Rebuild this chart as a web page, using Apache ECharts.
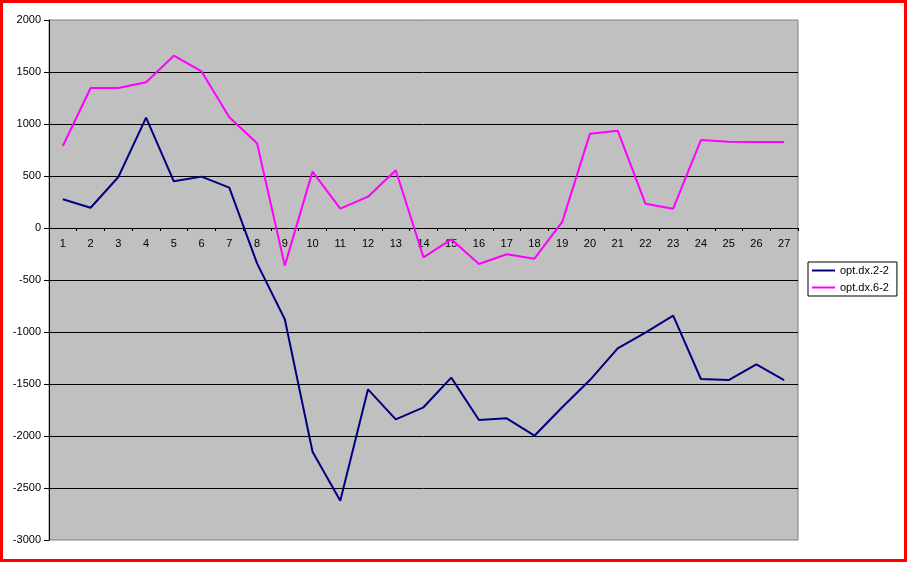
<!DOCTYPE html>
<html>
<head>
<meta charset="utf-8">
<script src="https://cdn.jsdelivr.net/npm/echarts@6/dist/echarts.min.js"></script>
<style>
html,body{margin:0;padding:0;background:#fff;}
#chart{width:907px;height:562px;}
</style>
</head>
<body>
<div id="chart"></div>
<script>
const categories = ['1','2','3','4','5','6','7','8','9','10','11','12','13','14','15','16','17','18','19','20','21','22','23','24','25','26','27'];
const seriesNames = ['opt.dx.2-2', 'opt.dx.6-2'];
const dx22 = [276, 195, 490, 1061, 449, 494, 388, -340, -878, -2151, -2622, -1551, -1840, -1724, -1439, -1846, -1830, -1997, -1724, -1462, -1157, -1006, -843, -1452, -1462, -1311, -1462];
const dx62 = [788, 1346, 1346, 1401, 1657, 1505, 1064, 814, -362, 542, 186, 301, 555, -282, -109, -346, -253, -295, 58, 907, 936, 234, 186, 846, 830, 827, 827];
const yMin = -3000, yMax = 2000, yStep = 500;

const FONT = 'Arial, "Liberation Sans", sans-serif';
const GRID_TOP = 20, GRID_BOTTOM = 22, GRID_H = 562 - GRID_TOP - GRID_BOTTOM;
// place the category axis on the zero line of the value axis
const zeroOffset = -Math.round(GRID_H * (0 - yMin) / (yMax - yMin));

const chart = echarts.init(document.getElementById('chart'), null, {renderer: 'canvas'});
chart.setOption({
  animation: false,
  backgroundColor: '#ffffff',
  textStyle: {fontFamily: FONT},
  graphic: [{
    type: 'rect', silent: true, z: 100,
    shape: {x: 1.5, y: 1.5, width: 904, height: 559},
    style: {fill: 'none', stroke: '#ff0000', lineWidth: 3}
  }],
  grid: {
    left: 49, top: GRID_TOP, right: 109, bottom: GRID_BOTTOM,
    show: true, backgroundColor: '#c0c0c0', borderColor: '#808080', borderWidth: 1
  },
  legend: {
    orient: 'vertical', left: 808, top: 262,
    backgroundColor: '#ffffff', borderColor: '#000000', borderWidth: 1, borderRadius: 0,
    padding: [3, 8, 3, 4], itemGap: 6, itemWidth: 23, itemHeight: 2,
    icon: 'rect',
    textStyle: {fontFamily: FONT, fontSize: 11, color: '#000'},
    data: seriesNames
  },
  xAxis: {
    type: 'category', data: categories, boundaryGap: true,
    position: 'bottom', offset: zeroOffset,
    axisLine: {onZero: false, lineStyle: {color: '#000', width: 1}},
    axisTick: {show: true, length: 3, inside: false, lineStyle: {color: '#000'}},
    axisLabel: {fontFamily: FONT, fontSize: 11, color: '#000', margin: 10, interval: 0},
    splitLine: {show: false}
  },
  yAxis: {
    type: 'value', min: yMin, max: yMax, interval: yStep,
    axisLine: {show: true, lineStyle: {color: '#000', width: 1}},
    axisTick: {show: true, length: 5, inside: false, lineStyle: {color: '#000'}},
    axisLabel: {fontFamily: FONT, fontSize: 11, color: '#000', margin: 8, formatter: function (v) { return String(v); }},
    splitLine: {show: true, showMinLine: false, showMaxLine: false, lineStyle: {color: '#000', width: 1}}
  },
  series: [
    {name: seriesNames[0], type: 'line', data: dx22, symbol: 'none', lineStyle: {color: '#000080', width: 2}, itemStyle: {color: '#000080'}},
    {name: seriesNames[1], type: 'line', data: dx62, symbol: 'none', lineStyle: {color: '#ff00ff', width: 2}, itemStyle: {color: '#ff00ff'}}
  ]
});
</script>
</body>
</html>
